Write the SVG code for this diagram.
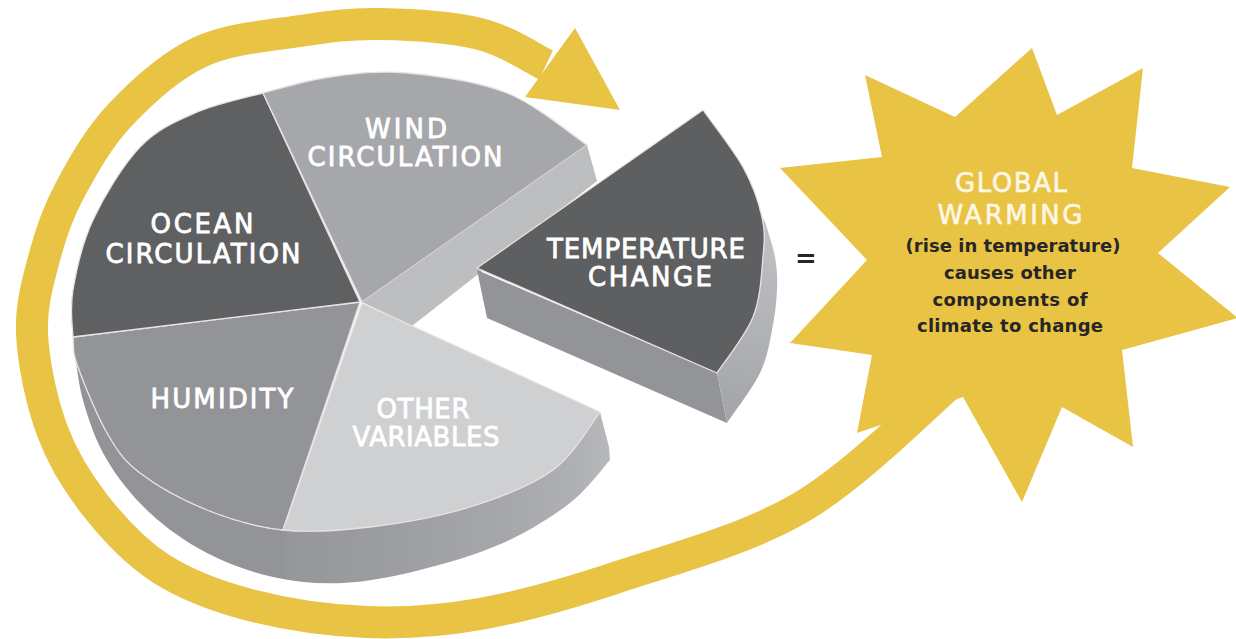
<svg xmlns="http://www.w3.org/2000/svg" width="1236" height="639" viewBox="0 0 1236 639">
<defs>
<style>
.lbl{font-family:"DejaVu Sans","Liberation Sans",sans-serif;font-size:26px;fill:#ffffff;stroke:#ffffff;stroke-width:0.8px;text-anchor:middle}
.gw{font-family:"DejaVu Sans","Liberation Sans",sans-serif;font-size:26px;fill:#fdf7e6;stroke:#fdf7e6;stroke-width:0.6px;text-anchor:middle}
.dark{font-family:"DejaVu Sans","Liberation Sans",sans-serif;font-weight:bold;font-size:18px;fill:#262626;text-anchor:middle}
.edge{stroke:#e4e4e5;stroke-width:1.3;stroke-linejoin:round}
.yel{fill:#e9c344}
</style>
<linearGradient id="sideGrad" gradientUnits="userSpaceOnUse" x1="73" y1="0" x2="612" y2="0">
<stop offset="0" stop-color="#939497"/>
<stop offset="0.39" stop-color="#939497"/>
<stop offset="0.40" stop-color="#96979a"/>
<stop offset="0.6" stop-color="#9d9ea1"/>
<stop offset="0.8" stop-color="#a6a7aa"/>
<stop offset="0.93" stop-color="#afb0b3"/>
<stop offset="1" stop-color="#b8b9bb"/>
</linearGradient>
<linearGradient id="tempSide" gradientUnits="userSpaceOnUse" x1="735" y1="420" x2="778" y2="250">
<stop offset="0" stop-color="#a4a5a8"/>
<stop offset="1" stop-color="#bdbec1"/>
</linearGradient>
</defs>
<rect width="1236" height="639" fill="#ffffff"/>

<g id="connectors">
<path d="M952,382 C926.7,403 856.2,475.3 800,508 C743.8,540.7 668.3,560.3 615,578 C561.7,595.7 521.3,606.7 480,614 C438.7,621.3 405.3,623.5 367,622 C328.7,620.5 284.5,614 250,605 C215.5,596 185.8,584.7 160,568 C134.2,551.3 113,528 95,505 C77,482 62.5,458.7 52,430 C41.5,401.3 33.2,362.2 32,333 C30.8,303.8 38.7,278.8 45,255 C51.3,231.2 57.5,213.3 70,190 C82.5,166.7 98.3,138 120,115 C141.7,92 170,66 200,52 C230,38 270,35.7 300,31 C330,26.3 350,23.5 380,24 C410,24.5 452.3,27.2 480,34 C507.7,40.8 535,59.8 546,65" fill="none" stroke="#e9c344" stroke-width="32"/>
<polygon class="yel" points="575,28 620,110 525,97"/>
</g>

<g id="global-warming">
<polygon class="yel" points="1032,48 1057,115 1143,68 1132,168 1230,187 1158,253 1238,318 1122,350 1133,447 1062,407 1022,502 963,397 857,433 872,355 790,343 867,260 780,168 882,157 865,75 955,117"/>
<text class="gw" x="1011" y="192" textLength="112">GLOBAL</text>
<text class="gw" x="1010" y="224" textLength="145">WARMING</text>
<text class="dark" x="1013" y="252" textLength="215">(rise in temperature)</text>
<text class="dark" x="1010" y="279" textLength="132">causes other</text>
<text class="dark" x="1010" y="306" textLength="155">components of</text>
<text class="dark" x="1010" y="332" textLength="186">climate to change</text>
</g>

<g id="equals">
<text x="806" y="267" font-family="DejaVu Sans, Liberation Sans, sans-serif" font-weight="bold" font-size="26" fill="#262626" text-anchor="middle">=</text>
</g>

<g id="pie-side">
<path fill="url(#sideGrad)" d="M73,337 C74.7,347.5 77.3,379.5 83,400 C88.7,420.5 95.8,441.2 107,460 C118.2,478.8 133.3,497.5 150,513 C166.7,528.5 186.5,542.3 207,553 C227.5,563.7 250.3,572 273,577 C295.7,582 318.5,584.2 343,583 C367.5,581.8 393.3,576.7 420,570 C446.7,563.3 478,554.2 503,543 C528,531.8 552.2,516.8 570,503 C587.8,489.2 603.3,467.2 610,460 L609,447 L600,412 C592.2,421.7 574.7,454.2 553,470 C531.3,485.8 500.5,497.5 470,507 C439.5,516.5 401.2,523.2 370,527 C338.8,530.8 310.2,532.8 283,530 C255.8,527.2 230.8,519.5 207,510 C183.2,500.5 156.7,485.8 140,473 C123.3,460.2 117.3,450.7 107,433 C96.7,415.3 83.7,383 78,367 C72.3,351 73.8,349.8 73,337 Z"/>
</g>

<g id="humidity">
<path class="edge" fill="#939497" d="M360,302 L283,530 C255.8,527.2 230.8,519.5 207,510 C183.2,500.5 156.7,485.8 140,473 C123.3,460.2 117.3,450.7 107,433 C96.7,415.3 83.7,383 78,367 C72.3,351 73.8,349.8 73,337 Z"/>
<path fill="none" stroke="#e0e0e1" stroke-width="1" stroke-dasharray="5 3 1 3" d="M283,530 C255.8,527.2 230.8,519.5 207,510 C183.2,500.5 156.7,485.8 140,473 C123.3,460.2 117.3,450.7 107,433 C96.7,415.3 83.7,383 78,367"/>
<text class="lbl" x="222" y="408" textLength="143">HUMIDITY</text>
</g>

<g id="ocean-circulation">
<path class="edge" fill="#5f6062" d="M360,302 L73,337 C72.2,324.2 69.7,309.5 73,290 C76.3,270.5 81.8,243.8 93,220 C104.2,196.2 123,164.8 140,147 C157,129.2 174.5,122 195,113 C215.5,104 240.5,99 263,93 Z"/>
<text class="lbl" x="202" y="233" textLength="103">OCEAN</text>
<text class="lbl" x="203" y="263" textLength="195">CIRCULATION</text>
</g>

<g id="wind-circulation">
<path class="edge" fill="#a6a7aa" d="M362,302 L263,93 C285.5,87 306,80.3 330,77 C354,73.7 377.5,70.3 407,73 C436.5,75.7 477,81 507,93 C537,105 573.7,136.3 587,145 Z"/>
<path fill="#bdbec0" d="M587,145 L597,181 L412,326 L362,302 Z"/>
<text class="lbl" x="406" y="138" textLength="82">WIND</text>
<text class="lbl" x="405" y="166" textLength="195">CIRCULATION</text>
</g>

<g id="other-variables">
<path class="edge" fill="#cfd0d2" d="M362,303 L600,412 C592.2,421.7 574.7,454.2 553,470 C531.3,485.8 500.5,497.5 470,507 C439.5,516.5 401.2,523.2 370,527 C338.8,530.8 310.2,532.8 283,530 Z"/>
<text class="lbl" x="423" y="418" textLength="93">OTHER</text>
<text class="lbl" x="426" y="446" textLength="147">VARIABLES</text>
</g>

<g id="temperature-change">
<path fill="#939497" d="M477,270 L717,373 L727,423 L487,318 Z"/>
<path fill="url(#tempSide)" d="M762,217 C765.3,232 764.5,240.3 763,257 C761.5,273.7 760.7,297.7 753,317 C745.3,336.3 723,363.7 717,373 L727,423 C732.5,414.7 752.5,388.5 760,373 C767.5,357.5 769.2,343.8 772,330 C774.8,316.2 776.5,302.2 777,290 C777.5,277.8 777,268.3 775,257 C773,245.8 766.7,227.8 765,222 Z"/>
<path class="edge" fill="#5e5f61" d="M477,268 L703,110 C709.7,119.5 733.2,149.2 743,167 C752.8,184.8 758.7,202 762,217 C765.3,232 764.5,240.3 763,257 C761.5,273.7 760.7,297.7 753,317 C745.3,336.3 723,363.7 717,373 Z"/>
<text class="lbl" x="646" y="258" textLength="198">TEMPERATURE</text>
<text class="lbl" x="650" y="286" textLength="124">CHANGE</text>
</g>
</svg>
